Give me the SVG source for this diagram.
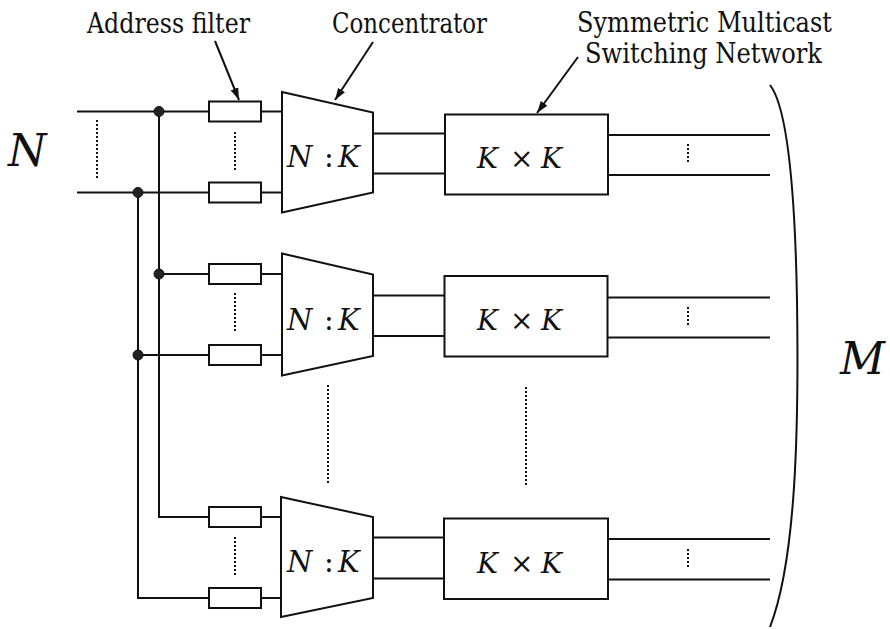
<svg xmlns="http://www.w3.org/2000/svg" width="890" height="629" viewBox="0 0 890 629">
<defs>
<marker id="arr" viewBox="0 0 12 8" refX="12" refY="4" markerWidth="12" markerHeight="8" markerUnits="userSpaceOnUse" orient="auto">
<path d="M0,0 L12,4 L0,8 Z" fill="#111"/>
</marker>
<style>
.ln{stroke:#111;stroke-width:2;fill:none}
.box{stroke:#111;stroke-width:2;fill:#fff}
.dot{stroke:#111;stroke-width:2;stroke-dasharray:2 2;fill:none}
.lbl{font-family:'DejaVu Serif',serif;font-size:27px;fill:#111;text-anchor:middle}
.math{font-family:'DejaVu Serif',serif;font-style:italic;fill:#111}
.rm{font-style:normal}
.jn{fill:#222;stroke:#111;stroke-width:1}
</style>
</defs>
<rect width="890" height="629" fill="#fff"/>

<g id="labels">
<text class="lbl" x="168.5" y="33" textLength="163" lengthAdjust="spacingAndGlyphs">Address filter</text>
<text class="lbl" x="409.5" y="33" textLength="155" lengthAdjust="spacingAndGlyphs">Concentrator</text>
<text class="lbl" x="704.5" y="32" textLength="255" lengthAdjust="spacingAndGlyphs">Symmetric Multicast</text>
<text class="lbl" x="703.5" y="63" textLength="237" lengthAdjust="spacingAndGlyphs">Switching Network</text>
<text class="math" x="8" y="166" font-size="44">N</text>
<text class="math" x="840" y="374" font-size="44">M</text>
</g>

<g id="connectors">
<line class="ln" x1="215" y1="41" x2="239" y2="100" stroke-width="1.6" marker-end="url(#arr)"/>
<line class="ln" x1="373" y1="42" x2="335" y2="100" stroke-width="1.6" marker-end="url(#arr)"/>
<line class="ln" x1="578" y1="57" x2="537" y2="113" stroke-width="1.6" marker-end="url(#arr)"/>
<line class="ln" x1="77" y1="111.5" x2="209" y2="111.5"/>
<line class="ln" x1="77" y1="192.5" x2="209" y2="192.5"/>
<line class="dot" x1="97" y1="120" x2="97" y2="178"/>
<polyline class="ln" points="159,111.5 159,517 209,517"/>
<polyline class="ln" points="138,192.5 138,598 209,598"/>
<line class="ln" x1="159" y1="274" x2="209" y2="274"/>
<line class="ln" x1="138" y1="355" x2="209" y2="355"/>
<circle class="jn" cx="159" cy="111.5" r="5"/>
<circle class="jn" cx="138" cy="192.5" r="5"/>
<circle class="jn" cx="159" cy="274" r="5"/>
<circle class="jn" cx="138" cy="355" r="5"/>
<line class="ln" x1="261" y1="111.5" x2="282" y2="111.5"/>
<line class="ln" x1="261" y1="192.5" x2="282" y2="192.5"/>
<line class="ln" x1="261" y1="274" x2="282" y2="274"/>
<line class="ln" x1="261" y1="355" x2="282" y2="355"/>
<line class="ln" x1="261" y1="517" x2="282" y2="517"/>
<line class="ln" x1="261" y1="598" x2="282" y2="598"/>
<line class="dot" x1="235" y1="132" x2="235" y2="170"/>
<line class="dot" x1="235" y1="293" x2="235" y2="333"/>
<line class="dot" x1="235" y1="537" x2="235" y2="575"/>
<line class="ln" x1="373" y1="133.5" x2="445" y2="133.5"/>
<line class="ln" x1="373" y1="173.5" x2="445" y2="173.5"/>
<line class="ln" x1="373" y1="295.5" x2="445" y2="295.5"/>
<line class="ln" x1="373" y1="336" x2="445" y2="336"/>
<line class="ln" x1="373" y1="537.5" x2="445" y2="537.5"/>
<line class="ln" x1="373" y1="578.5" x2="445" y2="578.5"/>
<line class="ln" x1="608" y1="135" x2="770" y2="135"/>
<line class="ln" x1="608" y1="175" x2="770" y2="175"/>
<line class="ln" x1="608" y1="297.5" x2="770" y2="297.5"/>
<line class="ln" x1="608" y1="337.5" x2="770" y2="337.5"/>
<line class="ln" x1="608" y1="539" x2="770" y2="539"/>
<line class="ln" x1="608" y1="579.5" x2="770" y2="579.5"/>
<line class="dot" x1="688" y1="144" x2="688" y2="164"/>
<line class="dot" x1="688" y1="307" x2="688" y2="325"/>
<line class="dot" x1="688" y1="549" x2="688" y2="567"/>
<line class="dot" x1="328" y1="385" x2="328" y2="483"/>
<line class="dot" x1="526" y1="387" x2="526" y2="485"/>
<path class="ln" stroke-width="1.8" d="M770,85 C788,108 795,190 797,300 C799,430 796,560 770,627"/>
</g>

<g id="filter1a"><rect class="box" x="209" y="101.5" width="52" height="20"/></g>
<g id="filter1b"><rect class="box" x="209" y="182.5" width="52" height="20"/></g>
<g id="filter2a"><rect class="box" x="209" y="264" width="52" height="20"/></g>
<g id="filter2b"><rect class="box" x="209" y="345" width="52" height="20"/></g>
<g id="filter3a"><rect class="box" x="209" y="507" width="52" height="20"/></g>
<g id="filter3b"><rect class="box" x="209" y="588" width="52" height="20"/></g>

<g id="conc1">
<polygon class="box" points="282,92 373,112.5 373,192.5 282,212.5"/>
<text class="math" x="287" y="166.5" font-size="29">N<tspan class="rm" x="324">:</tspan><tspan x="338">K</tspan></text>
</g>
<g id="conc2">
<polygon class="box" points="282,253.5 373,274.5 373,356 282,375.5"/>
<text class="math" x="287" y="329.5" font-size="29">N<tspan class="rm" x="324">:</tspan><tspan x="338">K</tspan></text>
</g>
<g id="conc3">
<polygon class="box" points="281,497 373,517 373,598 281,617"/>
<text class="math" x="287" y="572" font-size="29">N<tspan class="rm" x="324">:</tspan><tspan x="338">K</tspan></text>
</g>

<g id="switch1">
<rect class="box" x="445" y="114.5" width="163" height="80"/>
<text class="math" x="477" y="168" font-size="28">K<tspan class="rm" x="510">×</tspan><tspan x="541">K</tspan></text>
</g>
<g id="switch2">
<rect class="box" x="444.5" y="276" width="163" height="80.5"/>
<text class="math" x="477" y="330" font-size="28">K<tspan class="rm" x="510">×</tspan><tspan x="541">K</tspan></text>
</g>
<g id="switch3">
<rect class="box" x="444" y="518.5" width="164" height="80.5"/>
<text class="math" x="477" y="572.5" font-size="28">K<tspan class="rm" x="510">×</tspan><tspan x="541">K</tspan></text>
</g>
</svg>
